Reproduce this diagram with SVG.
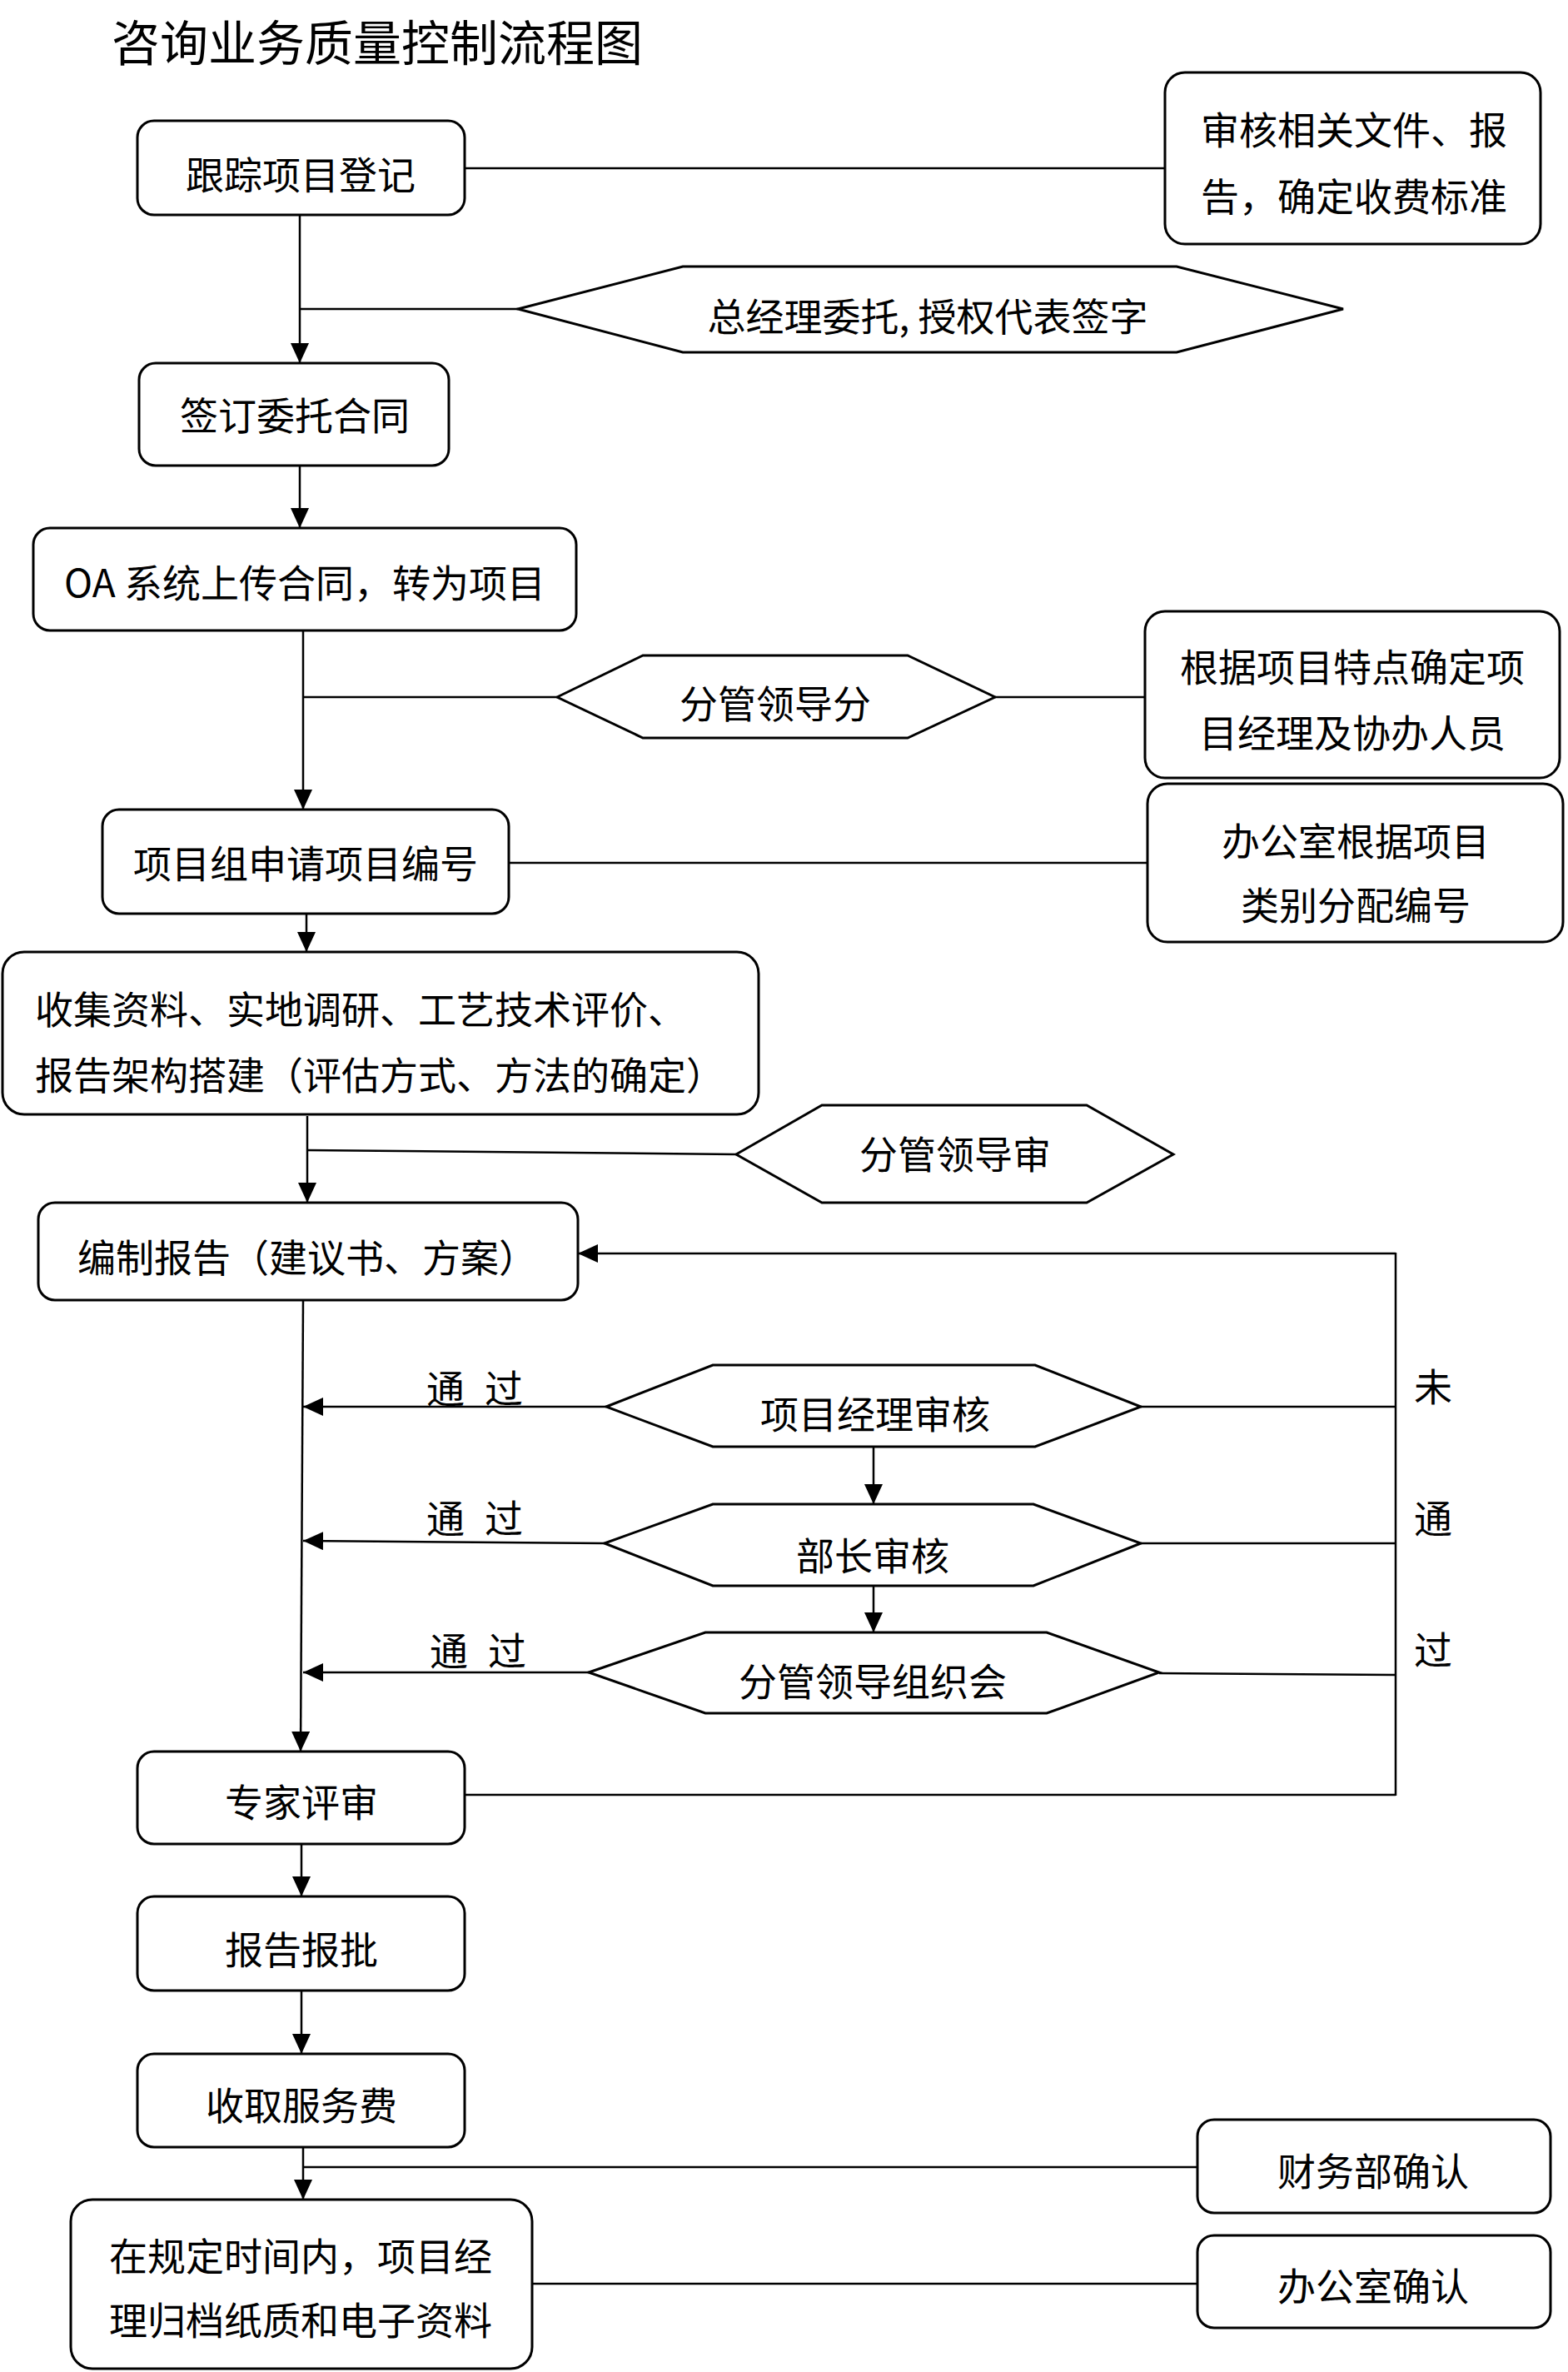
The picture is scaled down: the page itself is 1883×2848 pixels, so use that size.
<svg xmlns="http://www.w3.org/2000/svg" width="1883" height="2848" viewBox="0 0 1883 2848">
<defs>
<style>
.box{fill:#fff;stroke:#000;stroke-width:3}
.hex{fill:#fff;stroke:#000;stroke-width:3;stroke-linejoin:miter}
.t{font-family:"Noto Sans CJK SC","Noto Sans",sans-serif;font-size:46px;fill:#000;text-anchor:middle}
.tl{font-family:"Noto Sans CJK SC","Noto Sans",sans-serif;font-size:46px;fill:#000}
.title{font-family:"Noto Sans CJK SC","Noto Sans",sans-serif;font-size:58px;fill:#000}
.c{fill:none;stroke:#000;stroke-width:2.5}
.ca{fill:none;stroke:#000;stroke-width:2.5;marker-end:url(#arr)}
</style>
<marker id="arr" markerUnits="userSpaceOnUse" viewBox="0 0 24 22" markerWidth="24" markerHeight="22" refX="24" refY="11" orient="auto">
<path d="M0,0 L24,11 L0,22 z" fill="#000"/>
</marker>
</defs>
<rect width="1883" height="2848" fill="#fff"/>
<text class="title" x="134" y="73">咨询业务质量控制流程图</text>

<g id="connectors">
<line class="c" x1="558" y1="202" x2="1399" y2="202"/>
<line class="ca" x1="360" y1="258" x2="360" y2="436"/>
<line class="c" x1="360" y1="371" x2="622" y2="371"/>
<line class="ca" x1="360" y1="559" x2="360" y2="634"/>
<line class="ca" x1="364" y1="757" x2="364" y2="972"/>
<line class="c" x1="364" y1="837" x2="669" y2="837"/>
<line class="c" x1="1195" y1="837" x2="1375" y2="837"/>
<line class="c" x1="611" y1="1036" x2="1378" y2="1036"/>
<line class="ca" x1="368" y1="1097" x2="368" y2="1143"/>
<line class="ca" x1="369" y1="1340" x2="369" y2="1444"/>
<line class="c" x1="369" y1="1381" x2="884" y2="1386"/>
<line class="ca" x1="364" y1="1561" x2="361" y2="2103"/>
<line class="ca" x1="728" y1="1689" x2="364" y2="1689"/>
<line class="ca" x1="726" y1="1853" x2="364" y2="1850"/>
<line class="ca" x1="707" y1="2008" x2="364" y2="2008"/>
<line class="ca" x1="1049" y1="1737" x2="1049" y2="1806"/>
<line class="ca" x1="1049" y1="1904" x2="1049" y2="1960"/>
<line class="c" x1="1370" y1="1689" x2="1676" y2="1689"/>
<line class="c" x1="1370" y1="1853" x2="1676" y2="1853"/>
<line class="c" x1="1392" y1="2009" x2="1676" y2="2011"/>
<line class="c" x1="558" y1="2155" x2="1676" y2="2155"/>
<line class="c" x1="1676" y1="1504" x2="1676" y2="2156"/>
<line class="ca" x1="1676" y1="1505" x2="694" y2="1505"/>
<line class="ca" x1="362" y1="2214" x2="362" y2="2277"/>
<line class="ca" x1="362" y1="2390" x2="362" y2="2466"/>
<line class="ca" x1="364" y1="2578" x2="364" y2="2641"/>
<line class="c" x1="364" y1="2602" x2="1438" y2="2602"/>
<line class="c" x1="639" y1="2742" x2="1438" y2="2742"/>
</g>

<g id="n1"><rect class="box" x="165" y="145" width="393" height="113" rx="20"/><text class="t" x="361" y="227">跟踪项目登记</text></g>
<g id="n2"><rect class="box" x="1399" y="87" width="451" height="206" rx="24"/><text class="t" x="1626" y="173">审核相关文件、报</text><text class="t" x="1626" y="253">告，确定收费标准</text></g>
<g id="n3"><polygon class="hex" points="622,371 820,320 1413,320 1613,371 1413,423 820,423"/><text class="t" x="1114" y="397">总经理委托, 授权代表签字</text></g>
<g id="n4"><rect class="box" x="167" y="436" width="372" height="123" rx="20"/><text class="t" x="354" y="516">签订委托合同</text></g>
<g id="n5"><rect class="box" x="40" y="634" width="652" height="123" rx="20"/><text class="t" x="366" y="717">OA 系统上传合同，转为项目</text></g>
<g id="n6"><polygon class="hex" points="669,837 772,787 1090,787 1195,837 1090,886 772,886"/><text class="t" x="931" y="862">分管领导分</text></g>
<g id="n7"><rect class="box" x="1375" y="734" width="498" height="200" rx="24"/><text class="t" x="1624" y="818">根据项目特点确定项</text><text class="t" x="1624" y="897">目经理及协办人员</text></g>
<g id="n8"><rect class="box" x="123" y="972" width="488" height="125" rx="20"/><text class="t" x="367" y="1054">项目组申请项目编号</text></g>
<g id="n9"><rect class="box" x="1378" y="941" width="499" height="190" rx="24"/><text class="t" x="1628" y="1027">办公室根据项目</text><text class="t" x="1628" y="1104">类别分配编号</text></g>
<g id="n10"><rect class="box" x="3" y="1143" width="908" height="195" rx="26"/><text class="tl" x="42" y="1229">收集资料、实地调研、工艺技术评价、</text><text class="tl" x="42" y="1308">报告架构搭建（评估方式、方法的确定）</text></g>
<g id="n11"><polygon class="hex" points="884,1386 987,1327 1305,1327 1409,1386 1305,1444 987,1444"/><text class="t" x="1147" y="1403">分管领导审</text></g>
<g id="n12"><rect class="box" x="46" y="1444" width="648" height="117" rx="20"/><text class="tl" x="93" y="1527">编制报告（建议书、方案）</text></g>
<g id="n13"><polygon class="hex" points="728,1689 856,1639 1243,1639 1370,1689 1243,1737 856,1737"/><text class="t" x="1051" y="1715">项目经理审核</text></g>
<g id="n14"><polygon class="hex" points="726,1853 856,1806 1241,1806 1370,1853 1241,1904 856,1904"/><text class="t" x="1048" y="1885">部长审核</text></g>
<g id="n15"><polygon class="hex" points="707,2008 847,1960 1257,1960 1392,2008 1257,2057 847,2057"/><text class="t" x="1048" y="2036">分管领导组织会</text></g>
<g id="n16"><rect class="box" x="165" y="2103" width="393" height="111" rx="20"/><text class="t" x="362" y="2181">专家评审</text></g>
<g id="n17"><rect class="box" x="165" y="2277" width="393" height="113" rx="20"/><text class="t" x="362" y="2358">报告报批</text></g>
<g id="n18"><rect class="box" x="165" y="2466" width="393" height="112" rx="20"/><text class="t" x="362" y="2545">收取服务费</text></g>
<g id="n19"><rect class="box" x="85" y="2641" width="554" height="203" rx="26"/><text class="tl" x="131" y="2726">在规定时间内，项目经</text><text class="tl" x="131" y="2803">理归档纸质和电子资料</text></g>
<g id="n20"><rect class="box" x="1438" y="2545" width="424" height="112" rx="20"/><text class="t" x="1649" y="2624">财务部确认</text></g>
<g id="n21"><rect class="box" x="1438" y="2684" width="424" height="111" rx="20"/><text class="t" x="1649" y="2762">办公室确认</text></g>

<g id="labels">
<text class="tl" y="1684"><tspan x="512">通</tspan><tspan x="582">过</tspan></text>
<text class="tl" y="1840"><tspan x="512">通</tspan><tspan x="582">过</tspan></text>
<text class="tl" y="1999"><tspan x="516">通</tspan><tspan x="586">过</tspan></text>
<text class="t" x="1721" y="1682">未</text>
<text class="t" x="1721" y="1840">通</text>
<text class="t" x="1721" y="1998">过</text>
</g>
</svg>
